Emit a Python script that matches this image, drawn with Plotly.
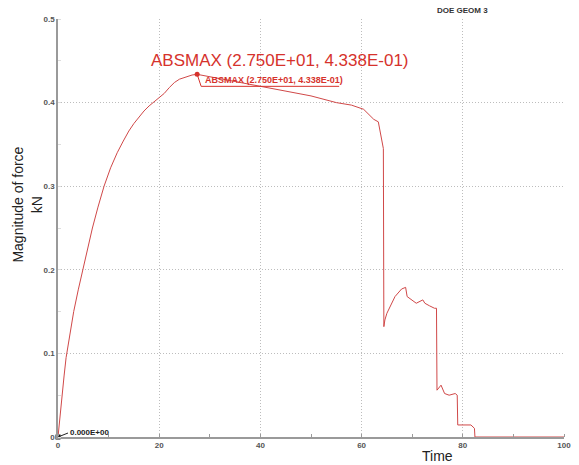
import plotly.graph_objects as go

# ---- data ----
time = [0, 0.4, 0.8, 1.2, 1.6, 2.3, 3.1, 4.0, 4.9, 5.8, 6.8, 7.9, 9.1, 10.4, 11.7, 12.9, 14, 15, 16, 17,
        18, 19, 20, 21, 22, 23, 24, 25.3, 26.5, 27.5,
        30, 35, 40, 45, 50, 55, 58, 60.4, 61.4, 62.4, 63.3, 63.7, 64.1, 64.3,
        64.4, 64.6, 65.0, 65.6, 66.6, 67.9, 68.7, 69.0, 69.9, 70.8, 72.1, 72.5, 73.4, 74.4, 74.8,
        74.9, 75.7, 76.4, 77.3, 78.5, 78.9, 79.0, 81.6, 82.3, 82.4, 100]
force = [0, 0.027, 0.05, 0.073, 0.095, 0.123, 0.15, 0.176, 0.2, 0.225, 0.25, 0.275, 0.3, 0.322, 0.34,
         0.354, 0.366, 0.375, 0.383, 0.39, 0.396, 0.401, 0.405, 0.411, 0.418, 0.424, 0.428, 0.431, 0.433,
         0.4338,
         0.431, 0.425, 0.419, 0.414, 0.408, 0.400, 0.397, 0.392, 0.386, 0.380, 0.377, 0.363, 0.349, 0.345,
         0.132, 0.140, 0.148, 0.156, 0.168, 0.177, 0.179, 0.168, 0.164, 0.160, 0.164, 0.160, 0.157, 0.154, 0.154,
         0.056, 0.062, 0.052, 0.050, 0.052, 0.050, 0.0144, 0.0144, 0.0104, 0.0, 0.0]

peak_t, peak_f = 27.5, 0.4338
min_t, min_f = 0.0, 0.0
peak_label = "ABSMAX (2.750E+01, 4.338E-01)"
min_label = "0.000E+00"
x_ticks = [0, 20, 40, 60, 80, 100]
y_ticks = [0, 0.1, 0.2, 0.3, 0.4, 0.5]
y_ticktext = ["0", "0.1", "0.2", "0.3", "0.4", "0.5"]

RED = "#d6322c"
LINE = "#d04848"
AX = "#9a9a9a"
FONT = "Liberation Sans, Arial, sans-serif"

fig = go.Figure()
fig.add_trace(go.Scatter(x=time, y=force, mode="lines",
                         line=dict(color=LINE, width=1), showlegend=False, hoverinfo="skip"))
fig.add_trace(go.Scatter(x=[peak_t], y=[peak_f], mode="markers",
                         marker=dict(color=RED, size=5), showlegend=False, hoverinfo="skip"))
fig.add_trace(go.Scatter(x=[min_t], y=[min_f], mode="markers",
                         marker=dict(color="#111", size=5, symbol="square"), showlegend=False,
                         hoverinfo="skip", cliponaxis=False))

fig.update_layout(
    width=579, height=465,
    margin=dict(l=58, r=8, t=19, b=28),
    paper_bgcolor="white", plot_bgcolor="white",
    font=dict(family=FONT, color="#444"),
    xaxis=dict(range=[0, 100], tickvals=x_ticks, showline=True, linecolor=AX, linewidth=1.5,
               showgrid=True, gridcolor="#bdbdbd", griddash="1px,2px", gridwidth=1,
               zeroline=False, ticks="", tickfont=dict(size=8, color="#555", family=FONT, weight="bold"),
               minor=dict(dtick=10, ticks="inside", ticklen=3, tickcolor=AX, showgrid=False)),
    yaxis=dict(range=[0, 0.5], tickvals=y_ticks, ticktext=y_ticktext, showline=True, linecolor=AX,
               linewidth=1.5, showgrid=True, gridcolor="#bdbdbd", griddash="1px,2px", gridwidth=1,
               zeroline=False, ticks="", tickfont=dict(size=8, color="#555", family=FONT, weight="bold"),
               minor=dict(dtick=0.05, ticks="inside", ticklen=3, tickcolor="#dddddd", showgrid=False)),
)

# leader lines (pixel offsets anchored at the data points)
fig.add_shape(type="path", xref="x", yref="y", xsizemode="pixel", ysizemode="pixel",
              xanchor=peak_t, yanchor=peak_f, path="M0,0 L4,-12 L142,-12",
              line=dict(color=RED, width=1))
fig.add_shape(type="path", xref="x", yref="y", xsizemode="pixel", ysizemode="pixel",
              xanchor=min_t, yanchor=min_f, path="M0,0 L10,4",
              line=dict(color="#222", width=1))

fig.add_annotation(x=peak_t, y=peak_f, xref="x", yref="y", text=peak_label, showarrow=False,
                   xanchor="left", yanchor="middle", xshift=-48, yshift=14,
                   font=dict(size=17, color=RED, family=FONT))
fig.add_annotation(x=peak_t, y=peak_f, xref="x", yref="y", text="<b>" + peak_label + "</b>",
                   showarrow=False, xanchor="left", yanchor="middle", xshift=6, yshift=-6,
                   font=dict(size=9, color=RED, family=FONT))
fig.add_annotation(x=min_t, y=min_f, xref="x", yref="y", text="<b>" + min_label + "</b>",
                   showarrow=False, xanchor="left", yanchor="middle", xshift=10, yshift=5,
                   font=dict(size=8, color="#222", family=FONT))

fig.add_annotation(x=80, y=1, xref="x", yref="paper", text="<b>DOE GEOM 3</b>", showarrow=False,
                   xanchor="center", yanchor="middle", yshift=9,
                   font=dict(size=8, color="#333", family=FONT))
fig.add_annotation(x=75, y=0, xref="x", yref="paper", text="Time", showarrow=False,
                   xanchor="center", yanchor="middle", yshift=-19,
                   font=dict(size=14, color="#222", family=FONT))
fig.add_annotation(x=0, y=0.556, xref="paper", yref="paper", text="Magnitude of force<br>kN",
                   showarrow=False, textangle=-90, xanchor="center", yanchor="middle", xshift=-31,
                   font=dict(size=14, color="#222", family=FONT))

fig.write_html("out.html")
